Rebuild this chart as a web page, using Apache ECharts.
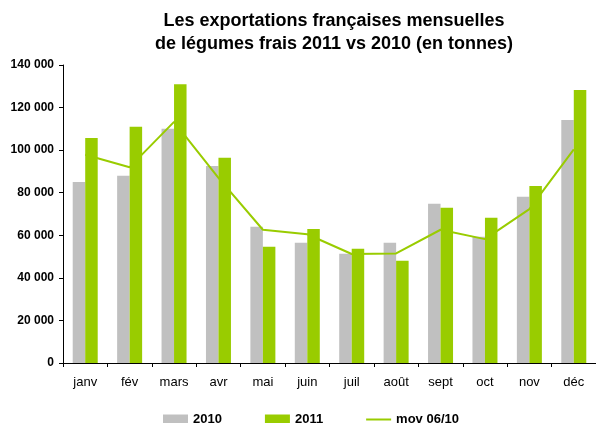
<!DOCTYPE html>
<html>
<head>
<meta charset="utf-8">
<script src="https://cdn.jsdelivr.net/npm/echarts@6/dist/echarts.min.js"></script>
<style>
  html, body { margin: 0; padding: 0; background: #fff; }
  #chart { width: 596px; height: 423px; }
</style>
</head>
<body>
<div id="chart"></div>
<script>
  const months = ['janv', 'fév', 'mars', 'avr', 'mai', 'juin', 'juil', 'août', 'sept', 'oct', 'nov', 'déc']
  const values2010 = [85000, 88000, 110000, 92600, 64000, 56500, 51300, 56500, 74800, 59300, 78100, 114200]
  const values2011 = [105700, 111000, 131000, 96400, 54600, 63000, 53700, 48000, 72900, 68200, 83200, 128300]
  const mov0610 = [97800, 92000, 113300, 87000, 62600, 60500, 51200, 51500, 62600, 58200, 72300, 100400]

  const font = 'Liberation Sans, Arial, sans-serif'
  const chart = echarts.init(document.getElementById('chart'))
  chart.setOption({
    animation: false,
    title: {
      text: 'Les exportations françaises mensuelles\nde légumes frais 2011 vs 2010 (en tonnes)',
      left: 329,
      textAlign: 'center',
      top: 5,
      textStyle: {
        fontFamily: font,
        fontSize: 18,
        fontWeight: 'bold',
        color: '#000',
        lineHeight: 23
      }
    },
    legend: {
      left: 158,
      top: 408,
      itemWidth: 25,
      itemHeight: 10,
      itemGap: 43,
      textStyle: {
        fontFamily: font,
        fontSize: 13,
        fontWeight: 'bold',
        color: '#000'
      },
      data: [
        { name: '2010', icon: 'rect' },
        { name: '2011', icon: 'rect' },
        { name: 'mov 06/10', icon: 'path://M0,0 L25,0 L25,2 L0,2 Z' }
      ]
    },
    grid: {
      left: 63,
      right: 0,
      top: 65,
      bottom: 60
    },
    xAxis: {
      type: 'category',
      data: months,
      axisLine: { lineStyle: { color: '#000', width: 1 } },
      axisTick: { show: true, length: 4, lineStyle: { color: '#000' } },
      axisLabel: {
        fontFamily: font,
        fontSize: 13,
        color: '#000',
        margin: 13
      }
    },
    yAxis: {
      type: 'value',
      min: 0,
      max: 140000,
      interval: 20000,
      axisLine: { show: true, lineStyle: { color: '#000', width: 1 } },
      axisTick: { show: true, length: 4, lineStyle: { color: '#000' } },
      splitLine: { show: false },
      axisLabel: {
        fontFamily: font,
        fontSize: 12,
        fontWeight: 'bold',
        color: '#000',
        margin: 9,
        formatter: (v) => v === 0 ? '0' : (v / 1000) + ' 000'
      }
    },
    series: [
      {
        name: '2010',
        type: 'bar',
        data: values2010,
        barWidth: 12.5,
        barGap: '0%',
        z: 1,
        itemStyle: { color: '#C0C0C0' }
      },
      {
        name: '2011',
        type: 'bar',
        data: values2011,
        barWidth: 12.5,
        barGap: '0%',
        z: 3,
        itemStyle: { color: '#99CC00' }
      },
      {
        name: 'mov 06/10',
        type: 'line',
        data: mov0610,
        symbol: 'none',
        z: 2,
        lineStyle: { color: '#99CC00', width: 2 },
        itemStyle: { color: '#99CC00' }
      }
    ]
  })
</script>
</body>
</html>
